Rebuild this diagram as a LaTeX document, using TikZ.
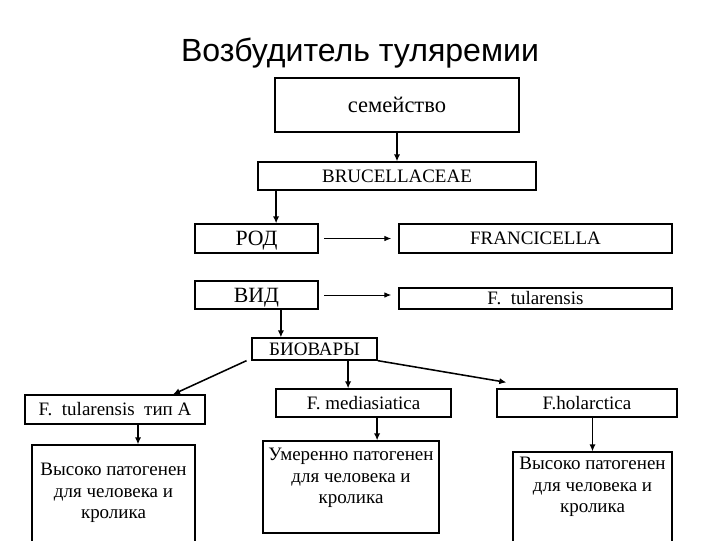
\documentclass[tikz,border=0pt]{standalone}
\usepackage{fontspec}
\setmainfont{Liberation Serif}
\newfontfamily\headfont{Liberation Sans}
\usetikzlibrary{positioning, arrows.meta}

\begin{document}
\begin{tikzpicture}[x=0.025cm, y=-0.025cm]
  \tikzset{
    box/.style={
      draw,
      line width=0.9pt,
      inner sep=0pt,
      minimum height=0.7cm,
      font=\fontsize{13.5}{15}\selectfont
    },
    rankbox/.style={
      box,
      minimum width=3.075cm,
      text height=10.5pt,
      text depth=0pt,
      font=\fontsize{15.5}{17}\selectfont
    },
    note/.style={
      align=center,
      inner sep=0pt,
      font=\fontsize{13.5}{15.2}\selectfont
    },
    link/.style={
      line width=1.1pt,
      -{Latex[length=5pt,width=4.5pt]}
    },
    sidelink/.style={
      line width=0.7pt,
      -{Latex[length=5pt,width=4pt]}
    }
  }
  \useasboundingbox (0,0) rectangle (720,540);

  % Title
  \node[font=\headfont\fontsize{22.8}{26}\selectfont] (title) at (360,53) {Возбудитель туляремии};

  % Taxonomy chain
  \node[box, minimum width=6.1cm, minimum height=1.35cm, font=\fontsize{16}{18}\selectfont] (fam) at (397,105) {семейство};
  \node[box, minimum width=6.95cm] (bru) at (397,176) {BRUCELLACEAE};

  \node[rankbox, minimum height=0.725cm] (rod) at (256.5,238.5) {РОД};
  \node[box, minimum width=6.825cm, minimum height=0.725cm] (fran) at (535.5,238.5) {FRANCICELLA};

  \node[rankbox] (vid) at (256.5,295) {ВИД};
  \node[box, minimum width=6.825cm, minimum height=0.525cm] (tul) at (535.5,298.5) {F.\ \ tularensis};

  \node[box, minimum width=3.125cm, minimum height=0.55cm] (biov) at (314.5,349) {БИОВАРЫ};

  % Biovars
  \node[box, minimum width=4.5cm, minimum height=0.725cm] (typA) at (115,409.5) {F.\ \ tularensis\ \ тип A};
  \node[box, minimum width=4.375cm] (med) at (363.5,403) {F. mediasiatica};
  \node[box, minimum width=4.5cm] (hol) at (587,403) {F.holarctica};

  % Pathogenicity
  \node[box, minimum width=4.075cm, minimum height=2.5cm] (p1) at (113.5,495) {};
  \node[note] (p1text) at (113.5,493) {Высоко патогенен\\для человека и\\кролика};
  \node[box, minimum width=4.4cm, minimum height=2.3cm] (p2) at (351,487) {};
  \node[note] (p2text) at (351,478) {Умеренно патогенен\\для человека и\\кролика};
  \node[box, minimum width=3.975cm, minimum height=2.325cm] (p3) at (592.5,498.5) {};
  \node[note] (p3text) at (592.5,487) {Высоко патогенен\\для человека и\\кролика};

  % Connectors
  \draw[link] (fam.south) -- (bru.north);
  \draw[link] ([xshift=0.49cm]rod.north |- bru.south) -- ([xshift=0.49cm]rod.north);
  \draw[sidelink] ([xshift=4pt]rod.east) -- ([xshift=-5pt]fran.west);
  \draw[sidelink] ([xshift=4pt]vid.east) -- ([xshift=-5pt]fran.west |- vid.east);
  \draw[link] ([xshift=0.61cm]vid.south) -- ([xshift=0.61cm]vid.south |- biov.north);
  \draw[link] ([xshift=-0.12cm]biov.south west) -- ([xshift=1.45cm]typA.north);
  \draw[link] ([xshift=0.84cm]biov.south) -- ([xshift=0.84cm]biov.south |- med.north);
  \draw[link] (biov.south east) -- ([xshift=0.25cm, yshift=0.15cm]hol.north west);
  \draw[link] ([xshift=0.575cm]typA.south) -- ([xshift=0.575cm]typA.south |- p1.north);
  \draw[link] ([xshift=0.34cm]med.south) -- ([xshift=0.34cm]med.south |- p2.north);
  \draw[link] (p3.north |- hol.south) -- (p3.north);

\end{tikzpicture}
\end{document}
